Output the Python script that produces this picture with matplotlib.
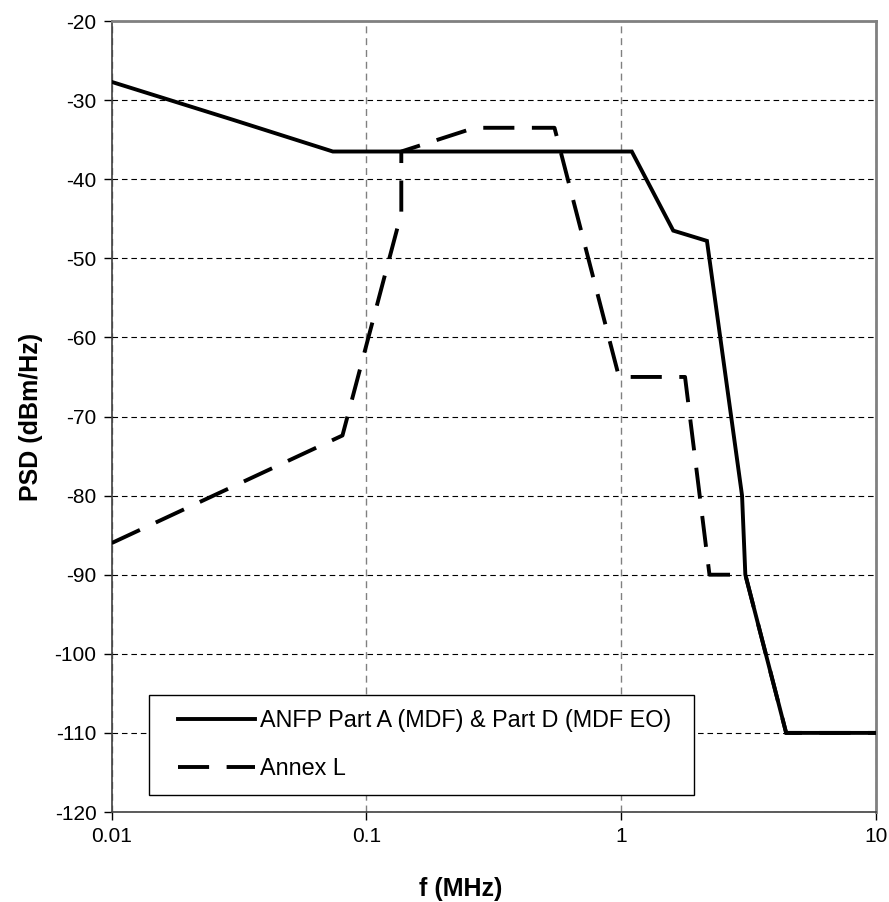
import matplotlib
matplotlib.use("Agg")
import matplotlib.pyplot as plt
from matplotlib.patches import Rectangle

plt.rcParams['font.family'] = ['Liberation Sans', 'DejaVu Sans']
plt.rcParams['axes.unicode_minus'] = False

# ANFP Part A (MDF) & Part D (MDF EO) mask
anfp_f = [0.01, 0.03, 0.0738, 1.1, 1.6, 2.17, 2.98, 3.07, 4.44, 10]
anfp_psd = [-27.7, -32.5, -36.5, -36.5, -46.5, -47.8, -80, -90, -110, -110]

# Annex L mask
annexl_f = [0.01, 0.0805, 0.137, 0.137, 0.266, 0.547, 0.98, 1.78, 2.22, 3.07, 4.44, 10]
annexl_psd = [-86, -72.4, -44.3, -36.5, -33.5, -33.5, -65, -65, -90, -90, -110, -110]

x_ticks = [0.01, 0.1, 1, 10]
x_labels = ['0.01', '0.1', '1', '10']
y_ticks = list(range(-120, -19, 10))

fig = plt.figure(figsize=(8.89, 9.02), dpi=100)
ax = fig.add_axes([111.7 / 889, 1 - 812 / 902, (876 - 111.7) / 889, (812 - 21) / 902])

ax.plot(anfp_f, anfp_psd, color='black', lw=2.8, solid_joinstyle='miter',
        label='ANFP Part A (MDF) & Part D (MDF EO)', zorder=3)
ax.plot(annexl_f, annexl_psd, color='black', lw=2.8, linestyle=(0, (8, 4.5)),
        label='Annex L', zorder=3)

ax.set_xscale('log')
ax.set_xlim(0.01, 10)
ax.set_ylim(-120, -20)
ax.set_xticks(x_ticks)
ax.set_xticklabels(x_labels)
ax.set_yticks(y_ticks)
ax.minorticks_off()
ax.tick_params(axis='both', direction='out', length=6, width=1, labelsize=15, pad=5)

ax.yaxis.grid(True, color='black', linestyle=(0, (5, 3.5)), lw=0.8)
ax.xaxis.grid(True, color='#808080', linestyle=(0, (5, 3.5)), lw=1.0)
ax.set_axisbelow(True)

for side in ['left', 'bottom']:
    ax.spines[side].set_color('#404040')
    ax.spines[side].set_linewidth(1.2)
for side in ['top', 'right']:
    ax.spines[side].set_color('#808080')
    ax.spines[side].set_linewidth(2)

ax.set_ylabel('PSD (dBm/Hz)', fontsize=18, fontweight='bold', labelpad=8)
fig.text(461 / 889, 1 - 889 / 902, 'f (MHz)', fontsize=18, fontweight='bold',
         ha='center', va='center')

# legend frame drawn separately so the padding matches the original
ax.add_patch(Rectangle((0.049, 0.0215), 0.713, 0.127, transform=ax.transAxes,
                       facecolor='white', edgecolor='black', lw=1.0, zorder=4))
leg = ax.legend(loc='upper left', bbox_to_anchor=(0.0867, 0.1296), borderaxespad=0,
                borderpad=0, fontsize=16.8, handlelength=3.3, handletextpad=0.2,
                labelspacing=1.05, frameon=False)
leg.set_zorder(5)

fig.savefig('out.png', dpi=100)
